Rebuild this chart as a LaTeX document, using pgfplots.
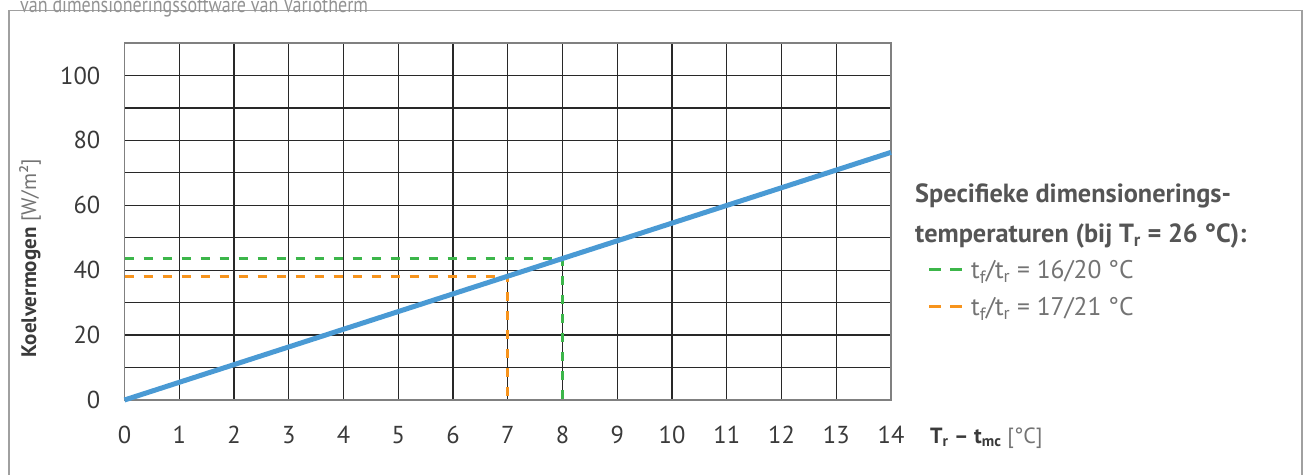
\documentclass[border=0pt]{standalone}
\usepackage{pgfplots}
\pgfplotsset{compat=1.18}
\usepackage{fontspec}
\setmainfont{PT Sans}
\newfontfamily\condfont[FakeStretch=0.82]{PT Sans}
\definecolor{lineblue}{RGB}{74,154,212}
\definecolor{dgreen}{RGB}{60,182,74}
\definecolor{dorange}{RGB}{247,148,29}
\definecolor{txt}{RGB}{58,58,58}
\definecolor{head}{RGB}{85,85,85}
\definecolor{leg}{RGB}{115,115,115}
\definecolor{gridc}{RGB}{40,40,40}
\definecolor{framec}{RGB}{160,160,160}
\begin{document}
\begin{tikzpicture}[x=1pt,y=1pt]
\useasboundingbox (0,0) rectangle (1303,474);
\clip (0,0) rectangle (1303,474);
\draw[framec, line width=1.5pt] (9,-5) -- (9,463.5) -- (1302,463.5) -- (1302,-5);
\node[anchor=base west, inner sep=0, text=gray!85, font=\condfont\fontsize{22}{24}\selectfont] at (20,461.5) {van dimensioneringssoftware van Variotherm};
\begin{axis}[at={(124.5pt,74pt)}, anchor=south west, scale only axis, width=766.5pt, height=357pt,
 xmin=0,xmax=14,ymin=0,ymax=110,
 xtick={0,...,14}, ytick={0,20,...,100}, minor ytick={10,30,...,110},
 grid=both, major grid style={gridc, line width=1.2pt}, minor grid style={gridc,line width=1.2pt},
 axis line style={gray, line width=1.5pt},
 tick style={draw=none},
 ticklabel style={text=txt, font=\fontsize{24.5}{28}\selectfont},
 /pgf/number format/assume math mode=true,
 xticklabel style={anchor=base, inner sep=0pt, yshift=-43pt},
 yticklabel style={anchor=east, inner sep=0pt, xshift=-24pt},
 clip=false,
]
\addplot[dgreen, line width=3pt, dash pattern=on 9pt off 10pt] coordinates {(0,43.6) (8,43.6) (8,0)};
\addplot[dorange, line width=3pt, dash pattern=on 9pt off 10pt] coordinates {(0,38.2) (7,38.2) (7,0)};
\addplot[lineblue, line width=5pt] coordinates {(0,0) (14,76.3)};
\end{axis}
\node[rotate=90, anchor=center, inner sep=0, font=\fontsize{21}{24}\selectfont] at (30,216) {\textcolor{txt}{\bfseries Koelvermogen} \textcolor{leg}{[W/m²]}};
\node[anchor=base west, inner sep=0, font=\fontsize{22}{26}\selectfont] at (930,31) {\textcolor{txt}{\bfseries T\textsubscript{r} – t\textsubscript{mc}} \textcolor{leg}{[°C]}};
\node[anchor=base west, inner sep=0, text=head, font=\bfseries\fontsize{26.3}{30}\selectfont] at (915,271) {Specifieke dimensionerings-};
\node[anchor=base west, inner sep=0, text=head, font=\bfseries\fontsize{26.3}{30}\selectfont] at (915,231) {temperaturen (bij T\textsubscript{r} = 26 °C):};
\draw[dgreen, line width=3pt] (929,204) -- (941,204) (950,204) -- (962,204);
\node[anchor=base west, inner sep=0, text=leg, font=\fontsize{25.5}{28}\selectfont] at (971,195) {t\textsubscript{f}/t\textsubscript{r} = 16/20 °C};
\draw[dorange, line width=3pt] (929,167) -- (941,167) (950,167) -- (962,167);
\node[anchor=base west, inner sep=0, text=leg, font=\fontsize{25.5}{28}\selectfont] at (971,158) {t\textsubscript{f}/t\textsubscript{r} = 17/21 °C};
\end{tikzpicture}
\end{document}
